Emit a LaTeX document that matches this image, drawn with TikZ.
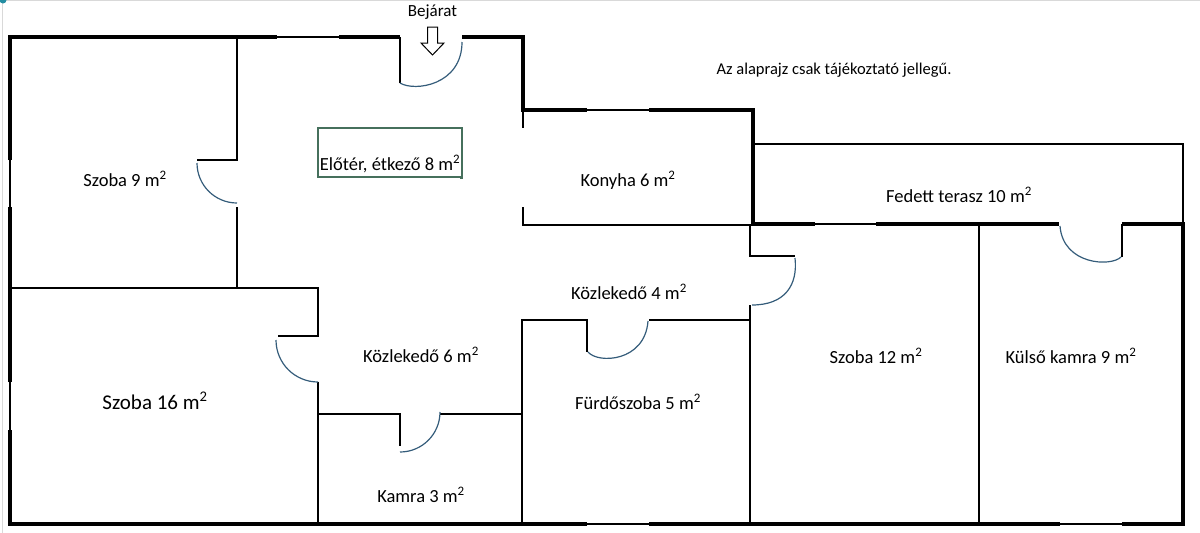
\documentclass[tikz,border=0pt]{standalone}
\usepackage{fontspec}
\setmainfont{Carlito}
\usetikzlibrary{positioning}
\newcommand{\nm}{m\textsuperscript{2}}
\definecolor{ajto}{RGB}{52,92,122}
\definecolor{keret}{RGB}{70,112,92}

\begin{document}
\begin{tikzpicture}[x=1pt,y=-1pt,
    fal/.style={line width=4.8pt},
    ablak/.style={line width=1.3pt},
    belso/.style={line width=1.3pt},
    ajtoiv/.style={ajto,line width=1.2pt},
    szoba/.style={font=\fontsize{18.5}{22}\selectfont,anchor=base,inner sep=0pt}]
  \useasboundingbox (0,0) rectangle (1200,533);
  \draw[black!15,line width=1pt] (2,0) -- (2,533) (0,0.5) -- (1200,0.5);
  \fill[ajto!70!cyan] (3,0) circle (3.5);

  % kulso falak
  \draw[fal] (10,160) -- (10,37) -- (277,37);
  \draw[ablak] (277,37) -- (339,37);
  \draw[fal] (339,37) -- (400,37);
  \draw[fal] (462,37) -- (523,37) -- (523,110) -- (587,110);
  \draw[ablak] (587,110) -- (649,110);
  \draw[fal] (649,110) -- (753,110) -- (753,224) -- (815,224);
  \draw[ablak] (815,224) -- (876,224);
  \draw[fal] (876,224) -- (1059,224);
  \draw[fal] (1122,224) -- (1183,224) -- (1183,524) -- (1122,524);
  \draw[ablak] (1122,524) -- (1060,524);
  \draw[fal] (1060,524) -- (649,524);
  \draw[ablak] (649,524) -- (587,524);
  \draw[fal] (587,524) -- (10,524) -- (10,430);
  \draw[ablak] (10,430) -- (10,382);
  \draw[fal] (10,382) -- (10,207);
  \draw[ablak] (10,207) -- (10,160);
  \draw[belso] (753,144) -- (1183,144) -- (1183,224);

  % belso falak
  \draw[belso] (237,37) -- (237,160) -- (197,160);
  \draw[belso] (237,207) -- (237,288);
  \draw[belso] (10,288) -- (318,288) -- (318,336) -- (278,336);
  \draw[belso] (318,382) -- (318,524);
  \draw[belso] (318,414) -- (400,414) -- (400,446);
  \draw[belso] (440,414) -- (522,414);
  \draw[belso] (522,524) -- (522,320) -- (587,320) -- (587,352);
  \draw[belso] (649,320) -- (750,320);
  \draw[belso] (750,224) -- (750,256) -- (795,256);
  \draw[belso] (750,305) -- (750,524);
  \draw[belso] (523,110) -- (523,128);
  \draw[belso] (523,207) -- (523,225) -- (753,225);
  \draw[belso] (979,224) -- (979,524);
  \draw[belso] (1122,224) -- (1122,257);
  \draw[belso] (400,37) -- (400,83);

  % ajtok
  \draw[ajtoiv] (400,83) .. controls (415,92) and (462,85) .. (462,42);
  \draw[ajtoiv] (197,163) arc[start angle=180,end angle=90,radius=40];
  \draw[ajtoiv] (276,340) arc[start angle=180,end angle=90,radius=42];
  \draw[ajtoiv] (400,452) arc[start angle=90,end angle=0,radius=40];
  \draw[ajtoiv] (588,352) .. controls (598,364) and (645,362) .. (648,321);
  \draw[ajtoiv] (795,258) .. controls (798,285) and (785,305) .. (752,305);
  \draw[ajtoiv] (1121,257) .. controls (1111,267) and (1063,265) .. (1060,226);

  % bejarat
  \draw[line width=1pt,fill=white] (427.5,27) -- (437.5,27) -- (437.5,43) -- (444,43)
    -- (432.5,55) -- (421,43) -- (427.5,43) -- cycle;
  \coordinate (nyil) at (432.5,27);
  \node (bejarat) [above=7pt of nyil,inner sep=0pt,font=\fontsize{17}{20}\selectfont] {Bejárat};

  \draw[keret,line width=1.2pt] (318,128) rectangle (462,177);
  \fill[keret] (459.5,175.5) rectangle +(3.5,3.5);

  % helyisegek
  \node[szoba] (szoba9)  at (125,186) {Szoba 9 \nm};
  \node[szoba] (eloter)  at (390,170) {Előtér, étkező 8 \nm};
  \node[szoba] (konyha)  at (628,186) {Konyha 6 \nm};
  \node[szoba] (terasz)  at (959,202) {Fedett terasz 10 \nm};
  \node[szoba] (kozl4)   at (629,299) {Közlekedő 4 \nm};
  \node[szoba] (kozl6)   at (421,362) {Közlekedő 6 \nm};
  \node[szoba,font=\fontsize{21}{24}\selectfont] (szoba16) at (155,409) {Szoba 16 \nm};
  \node[szoba] (furdo)   at (638,409) {Fürdőszoba 5 \nm};
  \node[szoba] (szoba12) at (876,363) {Szoba 12 \nm};
  \node[szoba] (kulso)   at (1071,363) {Külső kamra 9 \nm};
  \node[szoba] (kamra)   at (421,502) {Kamra 3 \nm};
  \node[szoba,font=\fontsize{16.5}{19}\selectfont] (megj) at (834,74) {Az alaprajz csak tájékoztató jellegű.};
\end{tikzpicture}
\end{document}
